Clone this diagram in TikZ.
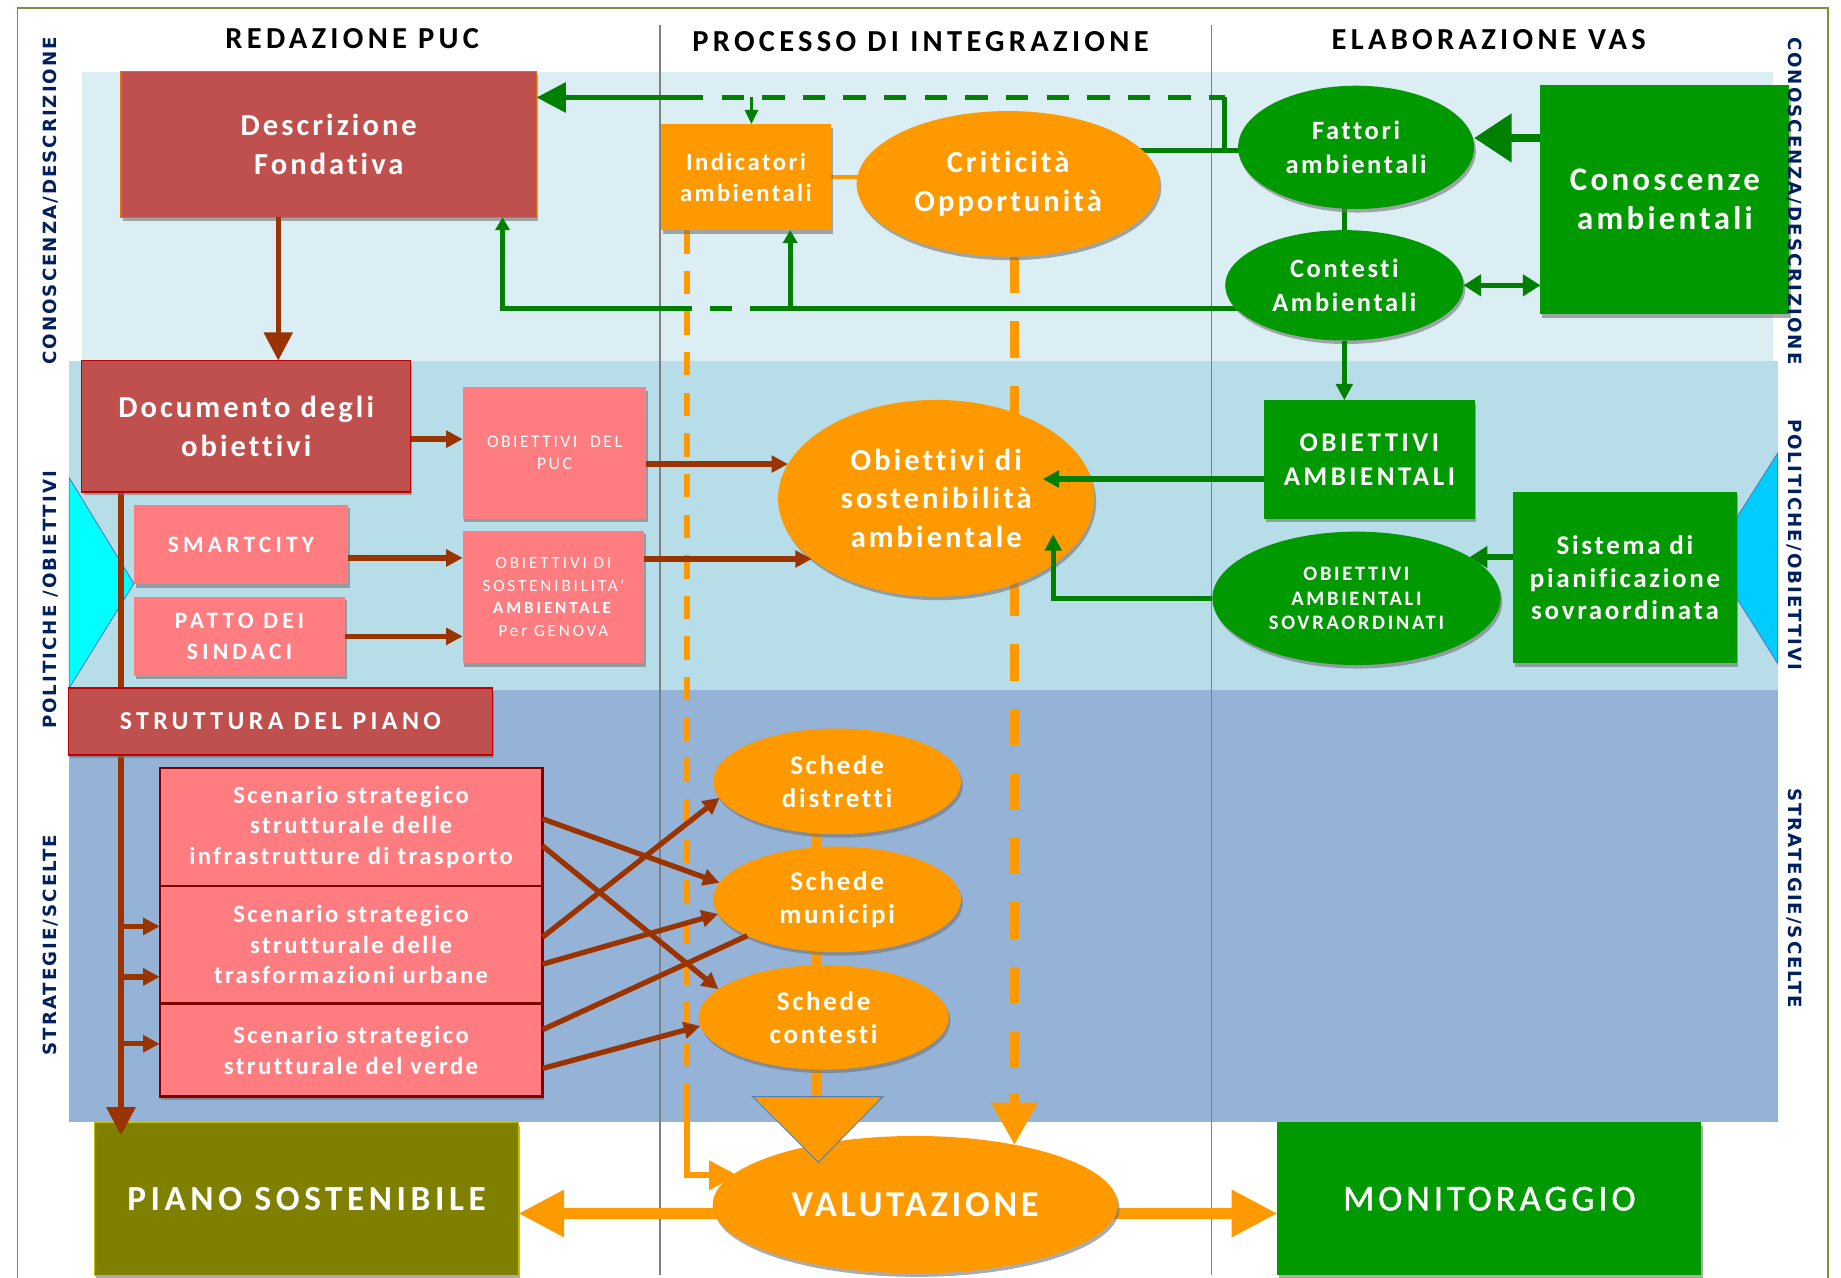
\documentclass[tikz,border=0pt]{standalone}
\usepackage{fontspec}
\setmainfont{Carlito}[LetterSpace=10,Ligatures=NoCommon]
\newfontfamily\sidefont{DejaVu Sans}[LetterSpace=11]
\usetikzlibrary{arrows.meta,shapes.geometric,shadows,calc}
\definecolor{cRed}{HTML}{C0504D}
\definecolor{cRedB}{HTML}{C00000}
\definecolor{cRedO}{HTML}{E46C0A}
\definecolor{cPink}{HTML}{FF7C80}
\definecolor{cPinkB}{HTML}{7F0000}
\definecolor{cOr}{HTML}{FF9900}
\definecolor{cGr}{HTML}{009900}
\definecolor{cGrL}{HTML}{008000}
\definecolor{cOl}{HTML}{808000}
\definecolor{cOlB}{HTML}{BFBF00}
\definecolor{cBr}{HTML}{993300}
\definecolor{cBa}{HTML}{DAEEF3}
\definecolor{cBb}{HTML}{B7DEE8}
\definecolor{cBc}{HTML}{95B3D7}
\definecolor{cNavy}{HTML}{002060}
\definecolor{cFrame}{HTML}{76923C}
\definecolor{cCyan}{HTML}{00FFFF}
\definecolor{cSky}{HTML}{00CCFF}
\definecolor{cTriB}{HTML}{4F81BD}
\definecolor{cDiv}{HTML}{808080}
\pgfdeclarelayer{bg}
\pgfdeclarelayer{mid}
\pgfsetlayers{bg,mid,main}
\newcommand\fsz[2]{\fontsize{#1}{#2}\selectfont}
\newcommand\lsp[1]{\addfontfeature{LetterSpace=#1}}
\begin{document}
\begin{tikzpicture}[x=1pt,y=-1pt,
  shad/.style={drop shadow={shadow xshift=1.5pt,shadow yshift=-3pt,fill=black!55,opacity=0.6}},
  box/.style={rectangle,inner sep=0pt,outer sep=0pt,align=center,text=white,shad},
  redbox/.style={box,fill=cRed,draw=cRedB,line width=1pt},
  pinkbox/.style={box,fill=cPink},
  scbox/.style={box,fill=cPink,draw=cPinkB,line width=2pt},
  orbox/.style={box,fill=cOr},
  grbox/.style={box,fill=cGr},
  oval/.style={ellipse,inner sep=0pt,outer sep=0pt,align=center,text=white,shad},
  orov/.style={oval,fill=cOr},
  grov/.style={oval,fill=cGr},
  hdr/.style={inner sep=0pt,text=black,font=\bfseries\fsz{26}{30}\lsp{14}},
  side/.style={inner sep=0pt,text=cNavy,font=\sidefont\bfseries\fsz{15.5}{18}},
  grl/.style={draw=cGrL,line width=4.5pt},
  grdash/.style={grl,dash pattern=on 19pt off 15.6pt},
  grarr/.style={grl,-{Triangle[width=14pt,length=14pt]}},
  grarrS/.style={grl,line width=4pt,-{Triangle[width=12pt,length=11pt]}},
  grthin/.style={draw=cGrL,line width=2.5pt,-{Triangle[width=11pt,length=12pt]}},
  grbigA/.style={grl,-{Triangle[width=25pt,length=25pt]}},
  grcono/.style={draw=cGrL,line width=7pt,-{Triangle[width=40pt,length=32pt]}},
  grdbl/.style={draw=cGrL,line width=4pt,{Triangle[width=18pt,length=15pt]}-{Triangle[width=18pt,length=15pt]}},
  grsist/.style={draw=cGrL,line width=5.5pt,-{Triangle[width=18pt,length=15pt]}},
  brl/.style={draw=cBr,line width=4.5pt},
  brarr/.style={brl,-{Triangle[width=14pt,length=14pt]}},
  brbig/.style={brl,-{Triangle[width=24pt,length=24pt]}},
  orl/.style={draw=cOr,line width=8pt},
  ordash/.style={draw=cOr,line width=5pt,dash pattern=on 20pt off 14.6pt},
  ordashB/.style={draw=cOr,line width=7.5pt,dash pattern=on 31pt off 24pt},
  orbig/.style={draw=cOr,line width=9pt,-{Triangle[width=38pt,length=39pt]}}
]
\useasboundingbox (0,0) rectangle (1568,1088);

\begin{pgfonlayer}{bg}
  \fill[white] (0,0) rectangle (1568,1088);
  \draw[cFrame,line width=1.5pt] (15,7) rectangle (1557,1110);
  \fill[cBa] (69.6,61) rectangle (1510,307.2);
  \fill[cBb] (59,307.2) rectangle (1514,587.7);
  \fill[cBc] (59,587.7) rectangle (1514,956);
  \draw[cDiv,line width=1.3pt] (562,21) -- (562,1086);
  \draw[cDiv,line width=1.3pt] (1032,21) -- (1032,1086);
  \filldraw[fill=cCyan,draw=cTriB,line width=0.8pt] (59,407) -- (114,497) -- (59,586) -- cycle;
  \filldraw[fill=cSky,draw=cTriB,line width=0.8pt] (1514,386) -- (1457.5,475) -- (1514,565) -- cycle;
\end{pgfonlayer}

% headers
\node[hdr] (h1) at (300,33) {REDAZIONE PUC};
\node[hdr] (h2) at (784,35) {PROCESSO DI INTEGRAZIONE};
\node[hdr] (h3) at (1268,34) {ELABORAZIONE VAS};

% left column
\node[redbox,draw=cRedO,minimum width=354pt,minimum height=124pt,font=\bfseries\fsz{26}{33}] (desc) at (280,123) {Descrizione\\Fondativa};
\node[redbox,minimum width=280pt,minimum height=112pt,font=\bfseries\fsz{26}{33}] (doc) at (209.7,363) {Documento degli\\obiettivi};
\node[pinkbox,minimum width=156.6pt,minimum height=112pt,font=\fsz{15}{19}\lsp{14}] (opuc) at (472.3,385.9) {OBIETTIVI \ DEL\\PUC};
\node[pinkbox,minimum width=182.6pt,minimum height=67.4pt,font=\bfseries\fsz{20}{25}\lsp{18}] (smart) at (205.3,463.7) {SMARTCITY};
\node[pinkbox,minimum width=180pt,minimum height=67.3pt,font=\bfseries\fsz{20}{25.6}\lsp{18}] (patto) at (204,542) {PATTO DEI\\SINDACI};
\node[pinkbox,minimum width=154.7pt,minimum height=112.8pt,font=\fsz{14.5}{19.3}\lsp{17}] (osg) at (471.4,508.4) {OBIETTIVI DI\\SOSTENIBILITA’\\\textbf{AMBIENTALE}\\Per GENOVA};
\node[redbox,minimum width=361pt,minimum height=57pt,font=\bfseries\fsz{22}{26}\lsp{17}] (strutt) at (238.8,614.5) {STRUTTURA DEL PIANO};
\node[scbox,minimum width=326pt,minimum height=101pt,font=\bfseries\fsz{21}{26}] (sc1) at (299,704.4) {Scenario strategico\\strutturale delle\\infrastrutture di trasporto};
\node[scbox,minimum width=326pt,minimum height=99.7pt,font=\bfseries\fsz{21}{26}] (sc2) at (299,804.7) {Scenario strategico\\strutturale delle\\trasformazioni urbane};
\node[scbox,minimum width=326pt,minimum height=79pt,font=\bfseries\fsz{21}{26}] (sc3) at (299,894.5) {Scenario strategico\\strutturale del verde};

% middle column
\node[orbox,minimum width=144.6pt,minimum height=90.4pt,font=\bfseries\fsz{21}{26.5}] (ind) at (635.3,150.8) {Indicatori\\ambientali};
\node[orov,minimum width=258pt,minimum height=124pt,font=\bfseries\fsz{26}{33}] (crit) at (858.6,156.6) {Criticità\\Opportunità};
\node[orov,minimum width=269.4pt,minimum height=167.6pt,font=\bfseries\fsz{26}{33}] (osost) at (797.4,424.4) {Obiettivi di\\sostenibilità\\ambientale};
\node[orov,minimum width=211pt,minimum height=90pt,font=\bfseries\fsz{23}{28.5}] (sdist) at (713,665.5) {Schede\\distretti};
\node[orov,minimum width=211pt,minimum height=90pt,font=\bfseries\fsz{23}{28.5}] (smun) at (713,766) {Schede\\municipi};
\node[orov,minimum width=213pt,minimum height=89pt,font=\bfseries\fsz{23}{28.5}] (scont) at (701.5,866.5) {Schede\\contesti};
\node[orov,minimum width=345pt,minimum height=117pt,font=\bfseries\fsz{31}{36}] (val) at (779.5,1026) {VALUTAZIONE};

% right column
\node[grov,minimum width=201pt,minimum height=105pt,font=\bfseries\fsz{22.5}{28.5}] (fatt) at (1155,125.5) {Fattori\\ambientali};
\node[grov,minimum width=203pt,minimum height=94pt,font=\bfseries\fsz{22.5}{28.5}] (cont) at (1145,243) {Contesti\\Ambientali};
\node[grbox,minimum width=212pt,minimum height=195pt,font=\bfseries\fsz{28}{33}] (cono) at (1418,170) {Conoscenze\\ambientali};
\node[grbox,minimum width=179.4pt,minimum height=101pt,font=\bfseries\fsz{23}{29}\lsp{13}] (oamb) at (1166.3,391.4) {OBIETTIVI\\AMBIENTALI};
\node[grov,minimum width=245.4pt,minimum height=113.6pt,font=\bfseries\fsz{17.5}{21}\lsp{13}] (osov) at (1155.3,509.6) {OBIETTIVI\\AMBIENTALI\\SOVRAORDINATI};
\node[grbox,minimum width=190pt,minimum height=146pt,font=\bfseries\fsz{23}{28}] (sist) at (1384,492) {Sistema di\\pianificazione\\sovraordinata};

% bottom
\node[box,fill=cOl,draw=cOlB,line width=1pt,minimum width=361pt,minimum height=130pt,font=\bfseries\fsz{30}{34}\lsp{13}] (piano) at (261,1021) {PIANO SOSTENIBILE};
\node[grbox,minimum width=361pt,minimum height=130pt,font=\fsz{31}{34}\addfontfeature{LetterSpace=11,FakeBold=1.2}] (moni) at (1268.5,1021) {MONITORAGGIO};

% named coordinates
\coordinate (gA) at (1043,128);
\coordinate (gB) at (1043,83);
\coordinate (gC) at (580,83);
\coordinate (gD) at (640,83);
\coordinate (hA) at (654,263);
\coordinate (hB) at (570,263);
\coordinate (hC) at (428,263);
\coordinate (hD) at (673,263);
\coordinate (dA) at (237,185);
\coordinate (fE) at ($(fatt.east)+(0,-8)$);
\coordinate (oA) at (888,408);
\coordinate (oB) at (897,455);
\coordinate (bA) at ($(doc.east)+(0,11)$);
\coordinate (sA) at ($(smart.east)+(0,11.5)$);
\coordinate (tA) at (103,418);
\coordinate (tM) at (103,945);
\coordinate (tB) at (103,967);
\coordinate (b1) at (103,789);
\coordinate (b2) at (103,832);
\coordinate (b3) at (103,889);
\coordinate (oS) at (696,935);
\coordinate (qT) at (585,941);
\coordinate (qB) at (585,1001);
\coordinate (qE) at (628,1001);
\coordinate (cS) at (864,940);
\coordinate (cT) at (864,975);
\coordinate (vY) at (0,1033.5);

% connectors under nodes
\begin{pgfonlayer}{mid}
  \draw[grl] (crit.center |- gA) -- (fatt.center |- gA);
  \draw[draw=cOr,line width=3pt] (ind.center) -- (crit.center |- ind.center);
  \draw[grl] (cont.center |- fatt.center) -- (cont.center);
  \draw[grl] (cont.center |- hA) -- (hA);
  \draw[orl] (sdist.center -| oS) -- (smun.center -| oS);
  \draw[orl] (smun.center -| oS) -- (scont.center -| oS);
  \draw[orl] (scont.center -| oS) -- (oS);
  \draw[orbig] (vY -| val.center) -- (vY -| piano.east);
  \draw[orbig] (vY -| val.center) -- (vY -| moni.west);
  \draw[ordash] (ind.south -| qT) -- (qT);
  \draw[ordashB] (crit.south -| cS) -- (cS);
  \draw[brl] (doc.center -| tA) -- (tM);
\end{pgfonlayer}

% green connectors
\draw[grl] (gA) -- (gB);
\draw[grdash] (gC) -- (gB);
\draw[grbigA] (gC) -- (gC -| desc.east);
\draw[grthin] (gD) -- (gD |- ind.north);
\draw[grdash] (hB) -- (hA);
\draw[grarrS] (hB) -- (hC) -- (hC |- desc.south);
\draw[grarrS] (hD) -- (hD |- ind.south);
\draw[grcono] (fE -| cono.west) -- (fE);
\draw[grdbl] (cont.east) -- (cont.east -| cono.west);
\draw[grarr] (cont.south) -- (cont.south |- oamb.north);
\draw[grarr] (oA -| oamb.west) -- (oA);
\draw[grarr] (osov.west) -- (osov.west -| oB) -- (oB);
\draw[grsist] (osov.20.5 -| sist.west) -- (osov.20.5);

% brown connectors
\draw[brbig] (dA) -- (dA |- doc.north);
\draw[brarr] (bA) -- (bA -| opuc.west);
\draw[brarr] (osost.167.8 -| opuc.east) -- (osost.167.8);
\draw[brarr] (sA) -- (sA -| osg.west);
\draw[brarr] (osost.206.1 -| osg.east) -- (osost.206.1);
\draw[brarr] (patto.east) -- (patto.east -| osg.west);
\draw[brbig] ([yshift=4pt]tM) -- (tB);
\draw[brarr] (b1) -- (b1 -| sc2.west);
\draw[brarr] (b2) -- (b2 -| sc2.west);
\draw[brarr] (b3) -- (b3 -| sc3.west);
\draw[brarr] ([yshift=7pt]sc1.east) -- (smun.172);
\draw[brarr] ([yshift=-16pt]sc1.east) -- (scont.165.6);
\draw[brarr] ([yshift=6.5pt]sc2.east) -- (sdist.188);
\draw[brarr] ([yshift=-16.5pt]sc2.east) -- (smun.187);
\draw[brl] ([yshift=17.5pt]sc3.east) -- (smun.202);
\draw[brarr] ([yshift=-15.5pt]sc3.east) -- (scont.184.8);

% orange connectors
\draw[draw=cOr,line width=5pt,-{Triangle[width=24pt,length=24pt]}] (qT) -- (qB) -- (qE);
\draw[draw=cOr,line width=7.5pt,-{Triangle[width=38pt,length=36pt]}] ([yshift=8pt]cS) -- (cT);
\filldraw[fill=cOr,draw=cTriB,line width=0.8pt] (641,934) -- (752,934) -- (697,990) -- cycle;

% side labels
\node[side,rotate=90] (l1) at (43,171) {CONOSCENZA/DESCRIZIONE};
\node[side,rotate=90] (l2) at (43,511) {POLITICHE /OBIETTIVI};
\node[side,rotate=90] (l3) at (43,805) {STRATEGIE/SCELTE};
\node[side,rotate=-90] (r1) at (1528,171) {CONOSCENZA/DESCRIZIONE};
\node[side,rotate=-90] (r2) at (1528,464) {POLITICHE/OBIETTIVI};
\node[side,rotate=-90] (r3) at (1528,765) {STRATEGIE/SCELTE};
\end{tikzpicture}
\end{document}
